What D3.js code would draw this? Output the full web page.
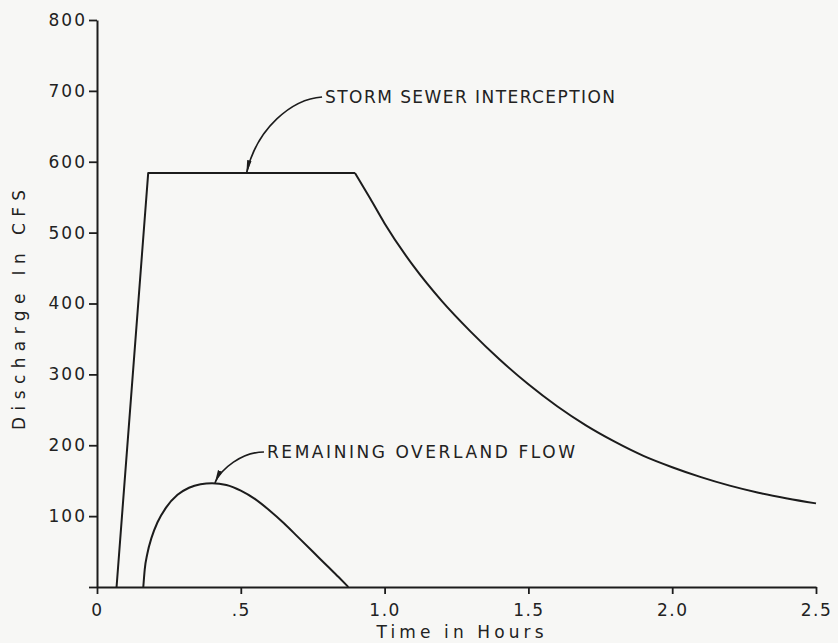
<!DOCTYPE html>
<html>
<head>
<meta charset="utf-8">
<script src="https://cdn.jsdelivr.net/npm/d3@7"></script>
<style>
  html, body { margin: 0; padding: 0; background: #f7f7f5; }
  svg { display: block; }
  text { font-family: "DejaVu Sans", sans-serif; fill: #222; }
</style>
</head>
<body>
<svg id="chart" width="838" height="643"></svg>
<script>
// Storm sewer interception hydrograph (hours, cfs)
const stormTime = [0.068, 0.178, 0.897, 0.95, 1.0, 1.1, 1.2, 1.3, 1.4, 1.5, 1.6, 1.7, 1.8, 1.9, 2.0, 2.1, 2.2, 2.3, 2.4, 2.5];
const stormFlow = [0, 584, 584, 548, 513, 453, 403, 360, 321, 286, 255, 228, 205, 185, 169, 155, 143, 133, 125, 118];

// Remaining overland flow hydrograph (hours, cfs)
const overlandTime = [0.161, 0.166, 0.175, 0.19, 0.21, 0.24, 0.28, 0.32, 0.36, 0.40, 0.45, 0.50, 0.55, 0.60, 0.65, 0.70, 0.75, 0.80, 0.84, 0.874];
const overlandFlow = [0, 25, 47, 70, 91, 112, 130, 140, 145, 146.5, 144, 136, 124, 108, 90, 70, 50, 30, 14, 0];

// Axis ticks
const xTickValues = [0, 0.5, 1.0, 1.5, 2.0, 2.5];
const xTickLabels = ["0", ".5", "1.0", "1.5", "2.0", "2.5"];
const yTickValues = [0, 100, 200, 300, 400, 500, 600, 700, 800];
const yTickLabels = ["", "100", "200", "300", "400", "500", "600", "700", "800"];

// Callout labels: [time, flow] of arrow tip and of label start
const stormLabel = "STORM SEWER INTERCEPTION";
const stormArrowAt = [0.52, 584];
const stormLabelAt = [0.793, 683];
const overlandLabel = "REMAINING OVERLAND FLOW";
const overlandArrowAt = [0.41, 147];
const overlandLabelAt = [0.591, 182];

const svg = d3.select("#chart");
const ink = "#1c1c1c";

const x = d3.scaleLinear().domain([0, 2.5]).range([97, 816]);
const y = d3.scaleLinear().domain([0, 800]).range([587, 20]);

// Arrowhead marker for callouts
svg.append("defs").append("marker")
  .attr("id", "arrow")
  .attr("viewBox", "0 -3 14 6")
  .attr("refX", 13).attr("refY", 0)
  .attr("markerUnits", "userSpaceOnUse")
  .attr("markerWidth", 14).attr("markerHeight", 6)
  .attr("orient", "auto")
  .append("path")
  .attr("d", "M0,-2.2 L14,0 L0,2.2 Z")
  .attr("fill", ink);

// Y axis
const yAxis = d3.axisLeft(y)
  .tickValues(yTickValues)
  .tickFormat((d, i) => yTickLabels[i])
  .tickSizeOuter(0)
  .tickSizeInner(8)
  .tickPadding(4);
const gy = svg.append("g").attr("transform", `translate(${x(0)},0)`).call(yAxis);
gy.select(".domain").attr("stroke", ink).attr("stroke-width", 2);
gy.selectAll(".tick line").attr("stroke", ink).attr("stroke-width", 1.8);
gy.selectAll(".tick text")
  .attr("font-size", 17)
  .attr("letter-spacing", 2)
  .attr("dx", 2)
  .attr("fill", "#222")
  .style("font-family", "DejaVu Sans, sans-serif");

// X axis
const xAxis = d3.axisBottom(x)
  .tickValues(xTickValues)
  .tickFormat((d, i) => xTickLabels[i])
  .tickSizeOuter(0)
  .tickSizeInner(7)
  .tickPadding(10);
const gx = svg.append("g").attr("transform", `translate(0,${y(0)})`).call(xAxis);
gx.select(".domain").attr("stroke", ink).attr("stroke-width", 2);
gx.selectAll(".tick line").attr("stroke", ink).attr("stroke-width", 1.8);
gx.selectAll(".tick text")
  .attr("font-size", 17)
  .attr("letter-spacing", 1.5)
  .attr("fill", "#222")
  .style("font-family", "DejaVu Sans, sans-serif");

// Axis titles
svg.append("text")
  .attr("x", 460).attr("y", 638)
  .attr("text-anchor", "middle")
  .attr("font-size", 17)
  .attr("textLength", 167).attr("lengthAdjust", "spacing")
  .text("Time in Hours");

svg.append("text")
  .attr("transform", `translate(25,${310}) rotate(-90)`)
  .attr("text-anchor", "middle")
  .attr("font-size", 17)
  .attr("textLength", 240).attr("lengthAdjust", "spacing")
  .text("Discharge In CFS");

// Hydrograph lines
const stormPts = stormTime.map((t, i) => [t, stormFlow[i]]);
const overlandPts = overlandTime.map((t, i) => [t, overlandFlow[i]]);

const straight = d3.line().x(d => x(d[0])).y(d => y(d[1])).curve(d3.curveLinear);
const smooth = d3.line().x(d => x(d[0])).y(d => y(d[1])).curve(d3.curveMonotoneX);

// rising limb and plateau are straight; recession limb is smooth
svg.append("path")
  .attr("d", straight(stormPts.slice(0, 3)))
  .attr("fill", "none").attr("stroke", ink).attr("stroke-width", 2).attr("stroke-linejoin", "round");
svg.append("path")
  .attr("d", smooth(stormPts.slice(2)))
  .attr("fill", "none").attr("stroke", ink).attr("stroke-width", 2);

svg.append("path")
  .attr("d", smooth(overlandPts))
  .attr("fill", "none").attr("stroke", ink).attr("stroke-width", 2);

// Callouts
function callout(label, tip, at, len, c1, c2) {
  const tx = x(tip[0]), ty = y(tip[1]);
  const lx = x(at[0]), ly = y(at[1]);
  const sx = lx - 3, sy = ly - 6;
  svg.append("path")
    .attr("d", `M${sx},${sy} C${sx + c1[0]},${sy + c1[1]} ${tx + c2[0]},${ty + c2[1]} ${tx},${ty}`)
    .attr("fill", "none").attr("stroke", ink).attr("stroke-width", 1.6)
    .attr("marker-end", "url(#arrow)");
  svg.append("text")
    .attr("x", lx).attr("y", ly)
    .attr("font-size", 17)
    .attr("textLength", len).attr("lengthAdjust", "spacing")
    .text(label);
}
callout(stormLabel, stormArrowAt, stormLabelAt, 290, [-30, 2], [10, -45]);
callout(overlandLabel, overlandArrowAt, overlandLabelAt, 308, [-22, 0], [6, -14]);
</script>
</body>
</html>
